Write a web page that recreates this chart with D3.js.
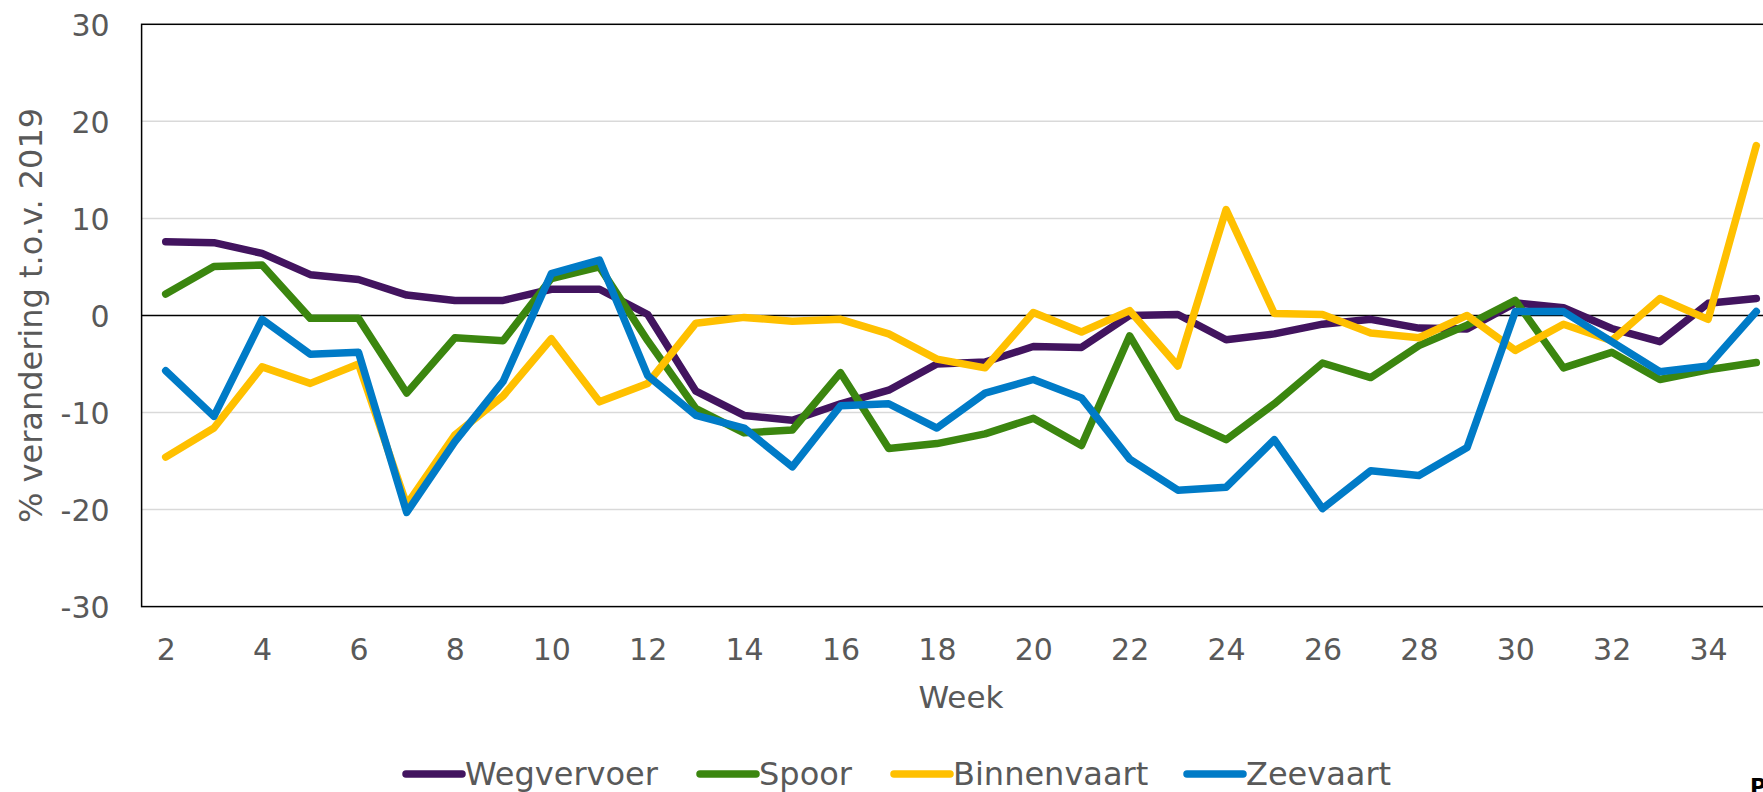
<!DOCTYPE html>
<html>
<head>
<meta charset="utf-8">
<script src="https://cdn.jsdelivr.net/npm/d3@7"></script>
<style>
  html, body { margin: 0; padding: 0; background: #fff; overflow: hidden; }
  svg { display: block; }
</style>
</head>
<body>
<svg id="chart" width="1763" height="792"></svg>
<script>
const weeks = [2,3,4,5,6,7,8,9,10,11,12,13,14,15,16,17,18,19,20,21,22,23,24,25,26,27,28,29,30,31,32,33,34,35];
const xTickLabels = [2,4,6,8,10,12,14,16,18,20,22,24,26,28,30,32,34];
const yTickLabels = [-30,-20,-10,0,10,20,30];
const seriesNames = ["Wegvervoer","Spoor","Binnenvaart","Zeevaart"];

const wegvervoer = [7.6,7.5,6.4,4.2,3.7,2.1,1.55,1.55,2.7,2.7,0.1,-7.8,-10.3,-10.8,-9.1,-7.7,-5.0,-4.8,-3.2,-3.3,0.0,0.1,-2.5,-1.9,-0.9,-0.4,-1.3,-1.4,1.3,0.8,-1.35,-2.7,1.25,1.75];
const spoor = [2.2,5.05,5.2,-0.3,-0.3,-8.0,-2.3,-2.6,3.8,5.0,-2.6,-9.6,-12.1,-11.8,-5.9,-13.7,-13.2,-12.2,-10.6,-13.4,-2.1,-10.5,-12.8,-9.1,-4.9,-6.4,-3.1,-1.0,1.55,-5.4,-3.8,-6.6,-5.6,-4.85];
const binnenvaart = [-14.6,-11.6,-5.3,-7.0,-5.0,-19.5,-12.3,-8.3,-2.4,-8.9,-7.0,-0.8,-0.2,-0.6,-0.4,-1.9,-4.5,-5.4,0.3,-1.7,0.5,-5.2,10.9,0.2,0.1,-1.8,-2.3,0.0,-3.6,-0.9,-2.6,1.75,-0.4,17.5];
const zeevaart = [-5.7,-10.4,-0.4,-4.0,-3.8,-20.3,-13.0,-6.8,4.3,5.7,-6.2,-10.3,-11.6,-15.6,-9.3,-9.1,-11.6,-8.0,-6.6,-8.5,-14.8,-18.0,-17.7,-12.8,-19.9,-16.0,-16.5,-13.6,0.4,0.4,-2.7,-5.8,-5.2,0.4];

const colors = ["#42145f","#3b860f","#ffc000","#007bc7"];
const seriesValues = [wegvervoer, spoor, binnenvaart, zeevaart];

const svg = d3.select("#chart");
const font = "'DejaVu Sans', Verdana, sans-serif";
const textColor = "#595959";

const plotLeft = 141.6, plotRight = 1780.4, plotTop = 24.3, plotBottom = 606.6;

const x = d3.scalePoint().domain(weeks).range([plotLeft, plotRight]).padding(0.5);
const y = d3.scaleLinear().domain([-30, 30]).range([plotBottom, plotTop]);

// gridlines
svg.append("g").selectAll("line")
  .data(yTickLabels.filter(v => v !== 0 && v !== 30 && v !== -30))
  .join("line")
  .attr("x1", plotLeft).attr("x2", plotRight)
  .attr("y1", d => y(d)).attr("y2", d => y(d))
  .attr("stroke", "#d9d9d9").attr("stroke-width", 1.5);

// frame
svg.append("rect")
  .attr("x", plotLeft).attr("y", plotTop)
  .attr("width", plotRight - plotLeft).attr("height", plotBottom - plotTop)
  .attr("fill", "none").attr("stroke", "#000").attr("stroke-width", 1.5);

// zero line
svg.append("line")
  .attr("x1", plotLeft).attr("x2", plotRight)
  .attr("y1", y(0)).attr("y2", y(0))
  .attr("stroke", "#000").attr("stroke-width", 1.5);

// y axis
const yAxis = svg.append("g")
  .attr("transform", `translate(${plotLeft},0)`)
  .call(d3.axisLeft(y).tickValues(yTickLabels).tickSize(0).tickPadding(32).tickFormat(d => String(d)));
yAxis.select(".domain").remove();
yAxis.selectAll("text")
  .attr("dy", "0.37em")
  .style("font-family", font).style("font-size", "30px").attr("fill", textColor);

// x axis
const xAxis = svg.append("g")
  .attr("transform", `translate(0,${plotBottom})`)
  .call(d3.axisBottom(x).tickValues(xTickLabels).tickSize(0).tickPadding(32));
xAxis.select(".domain").remove();
xAxis.selectAll("text")
  .style("font-family", font).style("font-size", "30px").attr("fill", textColor);

// axis titles
svg.append("text")
  .attr("transform", `translate(42,${(plotTop + plotBottom) / 2}) rotate(-90)`)
  .attr("text-anchor", "middle")
  .style("font-family", font).style("font-size", "32px").attr("fill", textColor)
  .text("% verandering t.o.v. 2019");

svg.append("text")
  .attr("x", (plotLeft + plotRight) / 2).attr("y", 708)
  .attr("text-anchor", "middle")
  .style("font-family", font).style("font-size", "31px").attr("fill", textColor)
  .text("Week");

// lines
const line = d3.line()
  .x((d, i) => x(weeks[i]))
  .y(d => y(d));

svg.append("g").selectAll("path")
  .data(seriesValues)
  .join("path")
  .attr("d", d => line(d))
  .attr("fill", "none")
  .attr("stroke", (d, i) => colors[i])
  .attr("stroke-width", 7.5)
  .attr("stroke-linecap", "round")
  .attr("stroke-linejoin", "round");

// legend
const legendX = [406, 700, 894, 1187];
const lg = svg.append("g").selectAll("g")
  .data(seriesNames)
  .join("g")
  .attr("transform", (d, i) => `translate(${legendX[i]},774)`);
lg.append("line")
  .attr("x1", 0).attr("x2", 56).attr("y1", 0).attr("y2", 0)
  .attr("stroke", (d, i) => colors[i]).attr("stroke-width", 7.5)
  .attr("stroke-linecap", "round");
lg.append("text")
  .attr("x", 59).attr("y", 11)
  .style("font-family", font).style("font-size", "32px").attr("fill", textColor)
  .text(d => d);

// corner text, partly outside the picture as in the reference
svg.append("text")
  .attr("x", 1750).attr("y", 794)
  .style("font-family", font).style("font-size", "22px").style("font-weight", "bold").attr("fill", "#000")
  .text("P");
</script>
</body>
</html>
